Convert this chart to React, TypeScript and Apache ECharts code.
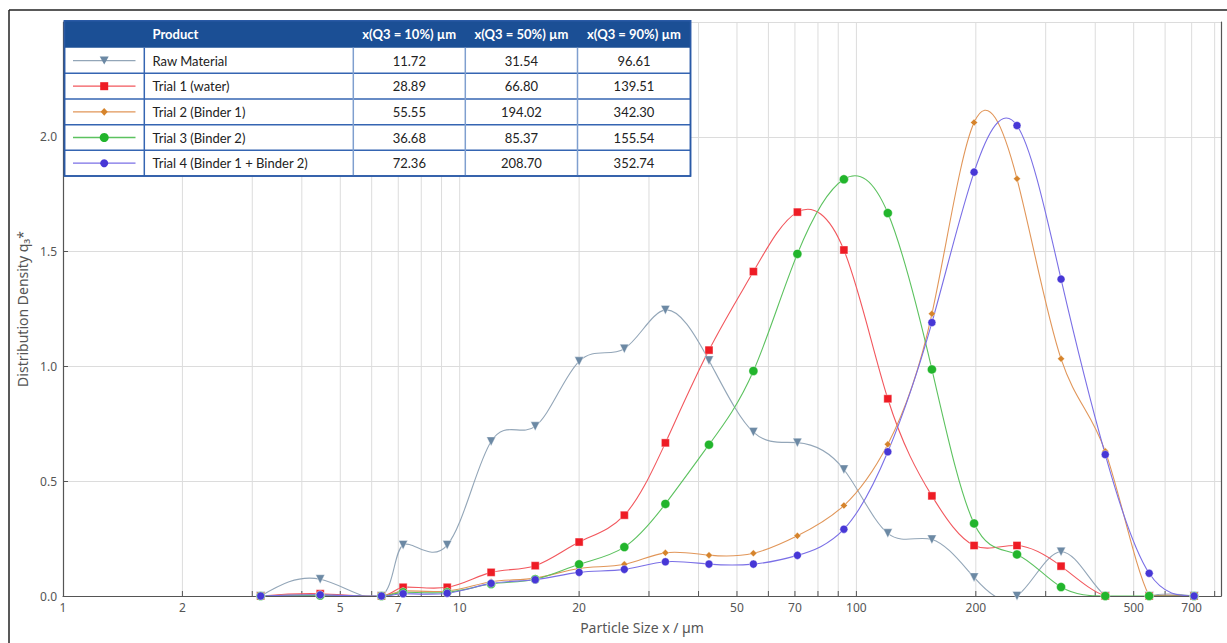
import React, { useEffect, useRef } from 'react';
import * as echarts from 'echarts';

// ---------- data ----------
const sizes = [3.15, 4.45, 6.35, 7.2, 9.3, 12, 15.5, 20, 26, 33, 42.5, 55, 71, 93, 120, 155, 198, 254, 328, 424, 547, 710];

const rawMaterial = [0, 0.073, 0, 0.222, 0.222, 0.673, 0.739, 1.022, 1.077, 1.246, 1.026, 0.714, 0.668, 0.551, 0.273, 0.246, 0.081, 0, 0.193, 0, 0, 0];
const trial1 = [0, 0.01, 0, 0.038, 0.038, 0.103, 0.132, 0.235, 0.352, 0.667, 1.071, 1.413, 1.672, 1.507, 0.859, 0.436, 0.22, 0.22, 0.13, 0, 0, 0];
const trial2 = [0, 0.005, 0, 0.022, 0.022, 0.062, 0.078, 0.12, 0.138, 0.188, 0.178, 0.186, 0.262, 0.394, 0.661, 1.229, 2.062, 1.817, 1.033, 0.63, 0, 0];
const trial3 = [0, 0.002, 0, 0.016, 0.016, 0.052, 0.073, 0.138, 0.213, 0.401, 0.659, 0.98, 1.49, 1.815, 1.668, 0.987, 0.316, 0.181, 0.039, 0, 0, 0];
const trial4 = [0, 0.005, 0, 0.01, 0.012, 0.055, 0.071, 0.103, 0.116, 0.149, 0.139, 0.139, 0.177, 0.291, 0.628, 1.191, 1.846, 2.049, 1.38, 0.616, 0.099, 0];

const seriesNames = ['Raw Material', 'Trial 1 (water)', 'Trial 2 (Binder 1)', 'Trial 3 (Binder 2)', 'Trial 4 (Binder 1 + Binder 2)'];
const seriesValues = [rawMaterial, trial1, trial2, trial3, trial4];

const x10 = ['11.72', '28.89', '55.55', '36.68', '72.36'];
const x50 = ['31.54', '66.80', '194.02', '85.37', '208.70'];
const x90 = ['96.61', '139.51', '342.30', '155.54', '352.74'];
const tableHeader = ['Product', 'x(Q3 = 10%) µm', 'x(Q3 = 50%) µm', 'x(Q3 = 90%) µm'];

const xTickLabels = [1, 2, 5, 7, 10, 20, 50, 70, 100, 200, 500, 700];
const xGridValues = [1, 2, 3, 4, 5, 6, 7, 8, 9, 10, 20, 30, 40, 50, 60, 70, 80, 90, 100, 200, 300, 400, 500, 600, 700, 800];

const X_MIN = 1;
const X_MAX = 830;
const Y_MIN = 0;
const Y_MAX = 2.5;

// ---------- styles ----------
const lineColors = ['#93a6b8', '#f2575d', '#e19659', '#5cc25f', '#7a6fe6'];
const markerColors = ['#6c89a4', '#ee1c25', '#d6842c', '#22b52c', '#4737d6'];
const symbols = ['triangle', 'rect', 'diamond', 'circle', 'circle'];
const symbolSizes = [9, 8, 7, 9, 8];
const symbolRotates = [180, 0, 0, 0, 0];

const FONT = 'Lato, "Noto Sans", sans-serif';
const AXIS_FONT = '"Noto Sans", "Open Sans", sans-serif';

// first derivatives of a natural cubic spline with uniform parameter
function naturalDerivs(v: number[]): number[] {
  const n = v.length;
  const a = new Array(n).fill(1), b = new Array(n).fill(4), c = new Array(n).fill(1), r = new Array(n).fill(0);
  b[0] = 2; b[n - 1] = 2; a[0] = 0; c[n - 1] = 0;
  r[0] = 3 * (v[1] - v[0]);
  r[n - 1] = 3 * (v[n - 1] - v[n - 2]);
  for (let i = 1; i < n - 1; i++) r[i] = 3 * (v[i + 1] - v[i - 1]);
  for (let i = 1; i < n; i++) {
    const w = a[i] / b[i - 1];
    b[i] -= w * c[i - 1];
    r[i] -= w * r[i - 1];
  }
  const d = new Array(n).fill(0);
  d[n - 1] = r[n - 1] / b[n - 1];
  for (let i = n - 2; i >= 0; i--) d[i] = (r[i] - c[i] * d[i + 1]) / b[i];
  return d;
}

function splineSegment(pts: number[][], i: number) {
  const dx = naturalDerivs(pts.map((p) => p[0]));
  const dy = naturalDerivs(pts.map((p) => p[1]));
  const p1 = pts[i], p2 = pts[i + 1];
  return {
    x1: p1[0], y1: p1[1], x2: p2[0], y2: p2[1],
    cpx1: p1[0] + dx[i] / 3, cpy1: p1[1] + dy[i] / 3,
    cpx2: p2[0] - dx[i + 1] / 3, cpy2: p2[1] - dy[i + 1] / 3,
  };
}

function buildTable(): any[] {
  const L = 64.5, C1 = 144.3, C2 = 353.3, C3 = 465.3, R = 690.5, C4 = 577.5;
  const top = 20.7, headBottom = 47.7, rowH = 25.66;
  const bottom = headBottom + rowH * 5;
  const els: any[] = [];
  els.push({ type: 'rect', shape: { x: L, y: top, width: R - L, height: bottom - top }, style: { fill: '#ffffff', stroke: '#2a5aa6', lineWidth: 1.5 }, z: 100 });
  els.push({ type: 'rect', shape: { x: L, y: top, width: R - L, height: headBottom - top }, style: { fill: '#1b4f95' }, z: 101 });
  for (let i = 1; i < 5; i++) {
    const y = headBottom + rowH * i;
    els.push({ type: 'line', shape: { x1: L, y1: y, x2: R, y2: y }, style: { stroke: '#3565b2', lineWidth: 1.5 }, z: 102 });
  }
  els.push({ type: 'line', shape: { x1: C1, y1: headBottom, x2: C1, y2: bottom }, style: { stroke: '#3565b2', lineWidth: 1.5 }, z: 102 });
  [C2, C3, C4].forEach((cx) => {
    els.push({ type: 'line', shape: { x1: cx, y1: headBottom, x2: cx, y2: bottom }, style: { stroke: '#7f9fcf', lineWidth: 1.5 }, z: 102 });
  });
  els.push({ type: 'rect', shape: { x: L, y: top, width: R - L, height: bottom - top }, style: { fill: 'none', stroke: '#2a5aa6', lineWidth: 1.5 }, z: 103 });

  const headY = (top + headBottom) / 2;
  const colCenters = [(C2 + C3) / 2, (C3 + C4) / 2, (C4 + R) / 2];
  els.push({ type: 'text', x: 152.5, y: headY, style: { text: tableHeader[0], fill: '#ffffff', font: `bold 13px ${FONT}`, align: 'left', verticalAlign: 'middle' }, z: 104 });
  for (let c = 0; c < 3; c++) {
    els.push({ type: 'text', x: colCenters[c], y: headY, style: { text: tableHeader[c + 1], fill: '#ffffff', font: `bold 13px ${FONT}`, align: 'center', verticalAlign: 'middle' }, z: 104 });
  }
  const cols = [x10, x50, x90];
  for (let r = 0; r < 5; r++) {
    const cy = headBottom + rowH * (r + 0.5);
    els.push({ type: 'text', x: 152.5, y: cy, style: { text: seriesNames[r], fill: '#222222', font: `13px ${FONT}`, align: 'left', verticalAlign: 'middle' }, z: 104 });
    for (let c = 0; c < 3; c++) {
      els.push({ type: 'text', x: colCenters[c], y: cy, style: { text: cols[c][r], fill: '#222222', font: `13px ${FONT}`, align: 'center', verticalAlign: 'middle' }, z: 104 });
    }
    const mx = 104.2;
    els.push({ type: 'line', shape: { x1: 73, y1: cy, x2: 135.5, y2: cy }, style: { stroke: lineColors[r], lineWidth: 1.3 }, z: 104 });
    const fill = markerColors[r];
    if (r === 0) {
      els.push({ type: 'polygon', shape: { points: [[mx - 4.5, cy - 4], [mx + 4.5, cy - 4], [mx, cy + 4]] }, style: { fill }, z: 105 });
    } else if (r === 1) {
      els.push({ type: 'rect', shape: { x: mx - 4, y: cy - 4, width: 8, height: 8 }, style: { fill }, z: 105 });
    } else if (r === 2) {
      els.push({ type: 'polygon', shape: { points: [[mx, cy - 3.8], [mx + 3.5, cy], [mx, cy + 3.8], [mx - 3.5, cy]] }, style: { fill }, z: 105 });
    } else {
      els.push({ type: 'circle', shape: { cx: mx, cy, r: r === 3 ? 4.5 : 4 }, style: { fill }, z: 105 });
    }
  }
  return els;
}

export default function App() {
  const ref = useRef<HTMLDivElement>(null);

  useEffect(() => {
    if (!ref.current) return;
    const chart = echarts.init(ref.current, undefined, { renderer: 'svg' });
    const labelSet = new Set(xTickLabels);

    const curveSeries = seriesValues.map((vals, i) => ({
      name: seriesNames[i] + ' curve',
      type: 'custom',
      z: 2,
      silent: true,
      clip: true,
      data: sizes.map((s, k) => [s, vals[k]]),
      renderItem: (params: any, api: any) => {
        const idx = params.dataIndex;
        if (idx >= sizes.length - 1) return { type: 'group', children: [] };
        const pts = sizes.map((s, k) => api.coord([s, vals[k]]));
        return {
          type: 'bezierCurve',
          shape: splineSegment(pts, idx),
          style: { stroke: lineColors[i], lineWidth: 1.1, fill: 'none' },
        };
      },
    }));

    const markerSeries = seriesValues.map((vals, i) => ({
      name: seriesNames[i],
      type: 'scatter',
      data: sizes.map((s, k) => [s, vals[k]]),
      symbol: symbols[i],
      symbolSize: symbolSizes[i],
      symbolRotate: symbolRotates[i],
      itemStyle: { color: markerColors[i], borderColor: '#ffffff', borderWidth: 0.4, opacity: 1 },
      z: 3 + i,
      clip: false,
    }));

    const option: any = {
      animation: false,
      backgroundColor: '#ffffff',
      grid: { left: 63, right: 6, top: 22, bottom: 47, containLabel: false },
      xAxis: {
        type: 'log',
        logBase: 10,
        min: X_MIN,
        max: X_MAX,
        name: 'Particle Size x / µm',
        nameLocation: 'middle',
        nameGap: 24,
        nameTextStyle: { color: '#555555', fontSize: 14, fontFamily: AXIS_FONT },
        axisLine: { show: true, lineStyle: { color: '#555555', width: 1.2 } },
        axisTick: { show: false },
        axisLabel: { show: false },
        splitLine: { show: false },
        minorSplitLine: { show: false },
      },
      yAxis: [
        {
          type: 'value',
          min: Y_MIN,
          max: Y_MAX,
          interval: 0.5,
          name: 'Distribution Density q₃*',
          nameLocation: 'middle',
          nameGap: 25,
          nameTextStyle: { color: '#555555', fontSize: 14, fontFamily: AXIS_FONT },
          axisLine: { show: true, lineStyle: { color: '#555555', width: 1.2 } },
          axisTick: { show: true, inside: true, length: 5, lineStyle: { color: '#555555' } },
          axisLabel: {
            color: '#555555',
            fontSize: 12,
            fontFamily: AXIS_FONT,
            margin: 6,
            showMaxLabel: false,
            formatter: (v: number) => v.toFixed(1),
          },
          splitLine: { show: true, lineStyle: { color: '#dcdcdc', width: 1 } },
        },
        {
          type: 'value',
          position: 'right',
          min: Y_MIN,
          max: Y_MAX,
          interval: 0.5,
          axisLine: { show: true, lineStyle: { color: '#555555', width: 1.2 } },
          axisTick: { show: false },
          axisLabel: { show: false },
          splitLine: { show: false },
        },
      ],
      series: [
        {
          type: 'custom',
          name: 'xgrid',
          z: 1,
          silent: true,
          clip: false,
          data: xGridValues.map((v) => [v, 0]),
          renderItem: (params: any, api: any) => {
            const v = api.value(0);
            const bot = api.coord([v, Y_MIN]);
            const top = api.coord([v, Y_MAX]);
            const children: any[] = [];
            if (v !== X_MIN) {
              children.push({ type: 'line', shape: { x1: bot[0], y1: bot[1], x2: top[0], y2: top[1] }, style: { stroke: '#dcdcdc', lineWidth: 1 } });
              children.push({ type: 'line', shape: { x1: bot[0], y1: bot[1], x2: bot[0], y2: bot[1] - 5 }, style: { stroke: '#555555', lineWidth: 1 } });
            }
            if (labelSet.has(v)) {
              children.push({
                type: 'text',
                x: bot[0],
                y: bot[1] + 5,
                style: { text: String(v), fill: '#555555', fontSize: 12, fontFamily: AXIS_FONT, align: 'center', verticalAlign: 'top' },
              });
            }
            return { type: 'group', children };
          },
        },
        ...curveSeries,
        ...markerSeries,
      ],
      graphic: {
        elements: [
          { type: 'line', shape: { x1: 9, y1: 10, x2: 1240, y2: 10 }, style: { stroke: '#222222', lineWidth: 1.5 }, z: 50 },
          { type: 'line', shape: { x1: 9, y1: 10, x2: 9, y2: 660 }, style: { stroke: '#222222', lineWidth: 1.5 }, z: 50 },
          ...buildTable(),
        ],
      },
    };
    chart.setOption(option);
    return () => chart.dispose();
  }, []);

  return (
    <div
      ref={ref}
      style={{ position: 'fixed', left: 0, top: 0, width: 1227, height: 643, background: '#ffffff' }}
    />
  );
}
